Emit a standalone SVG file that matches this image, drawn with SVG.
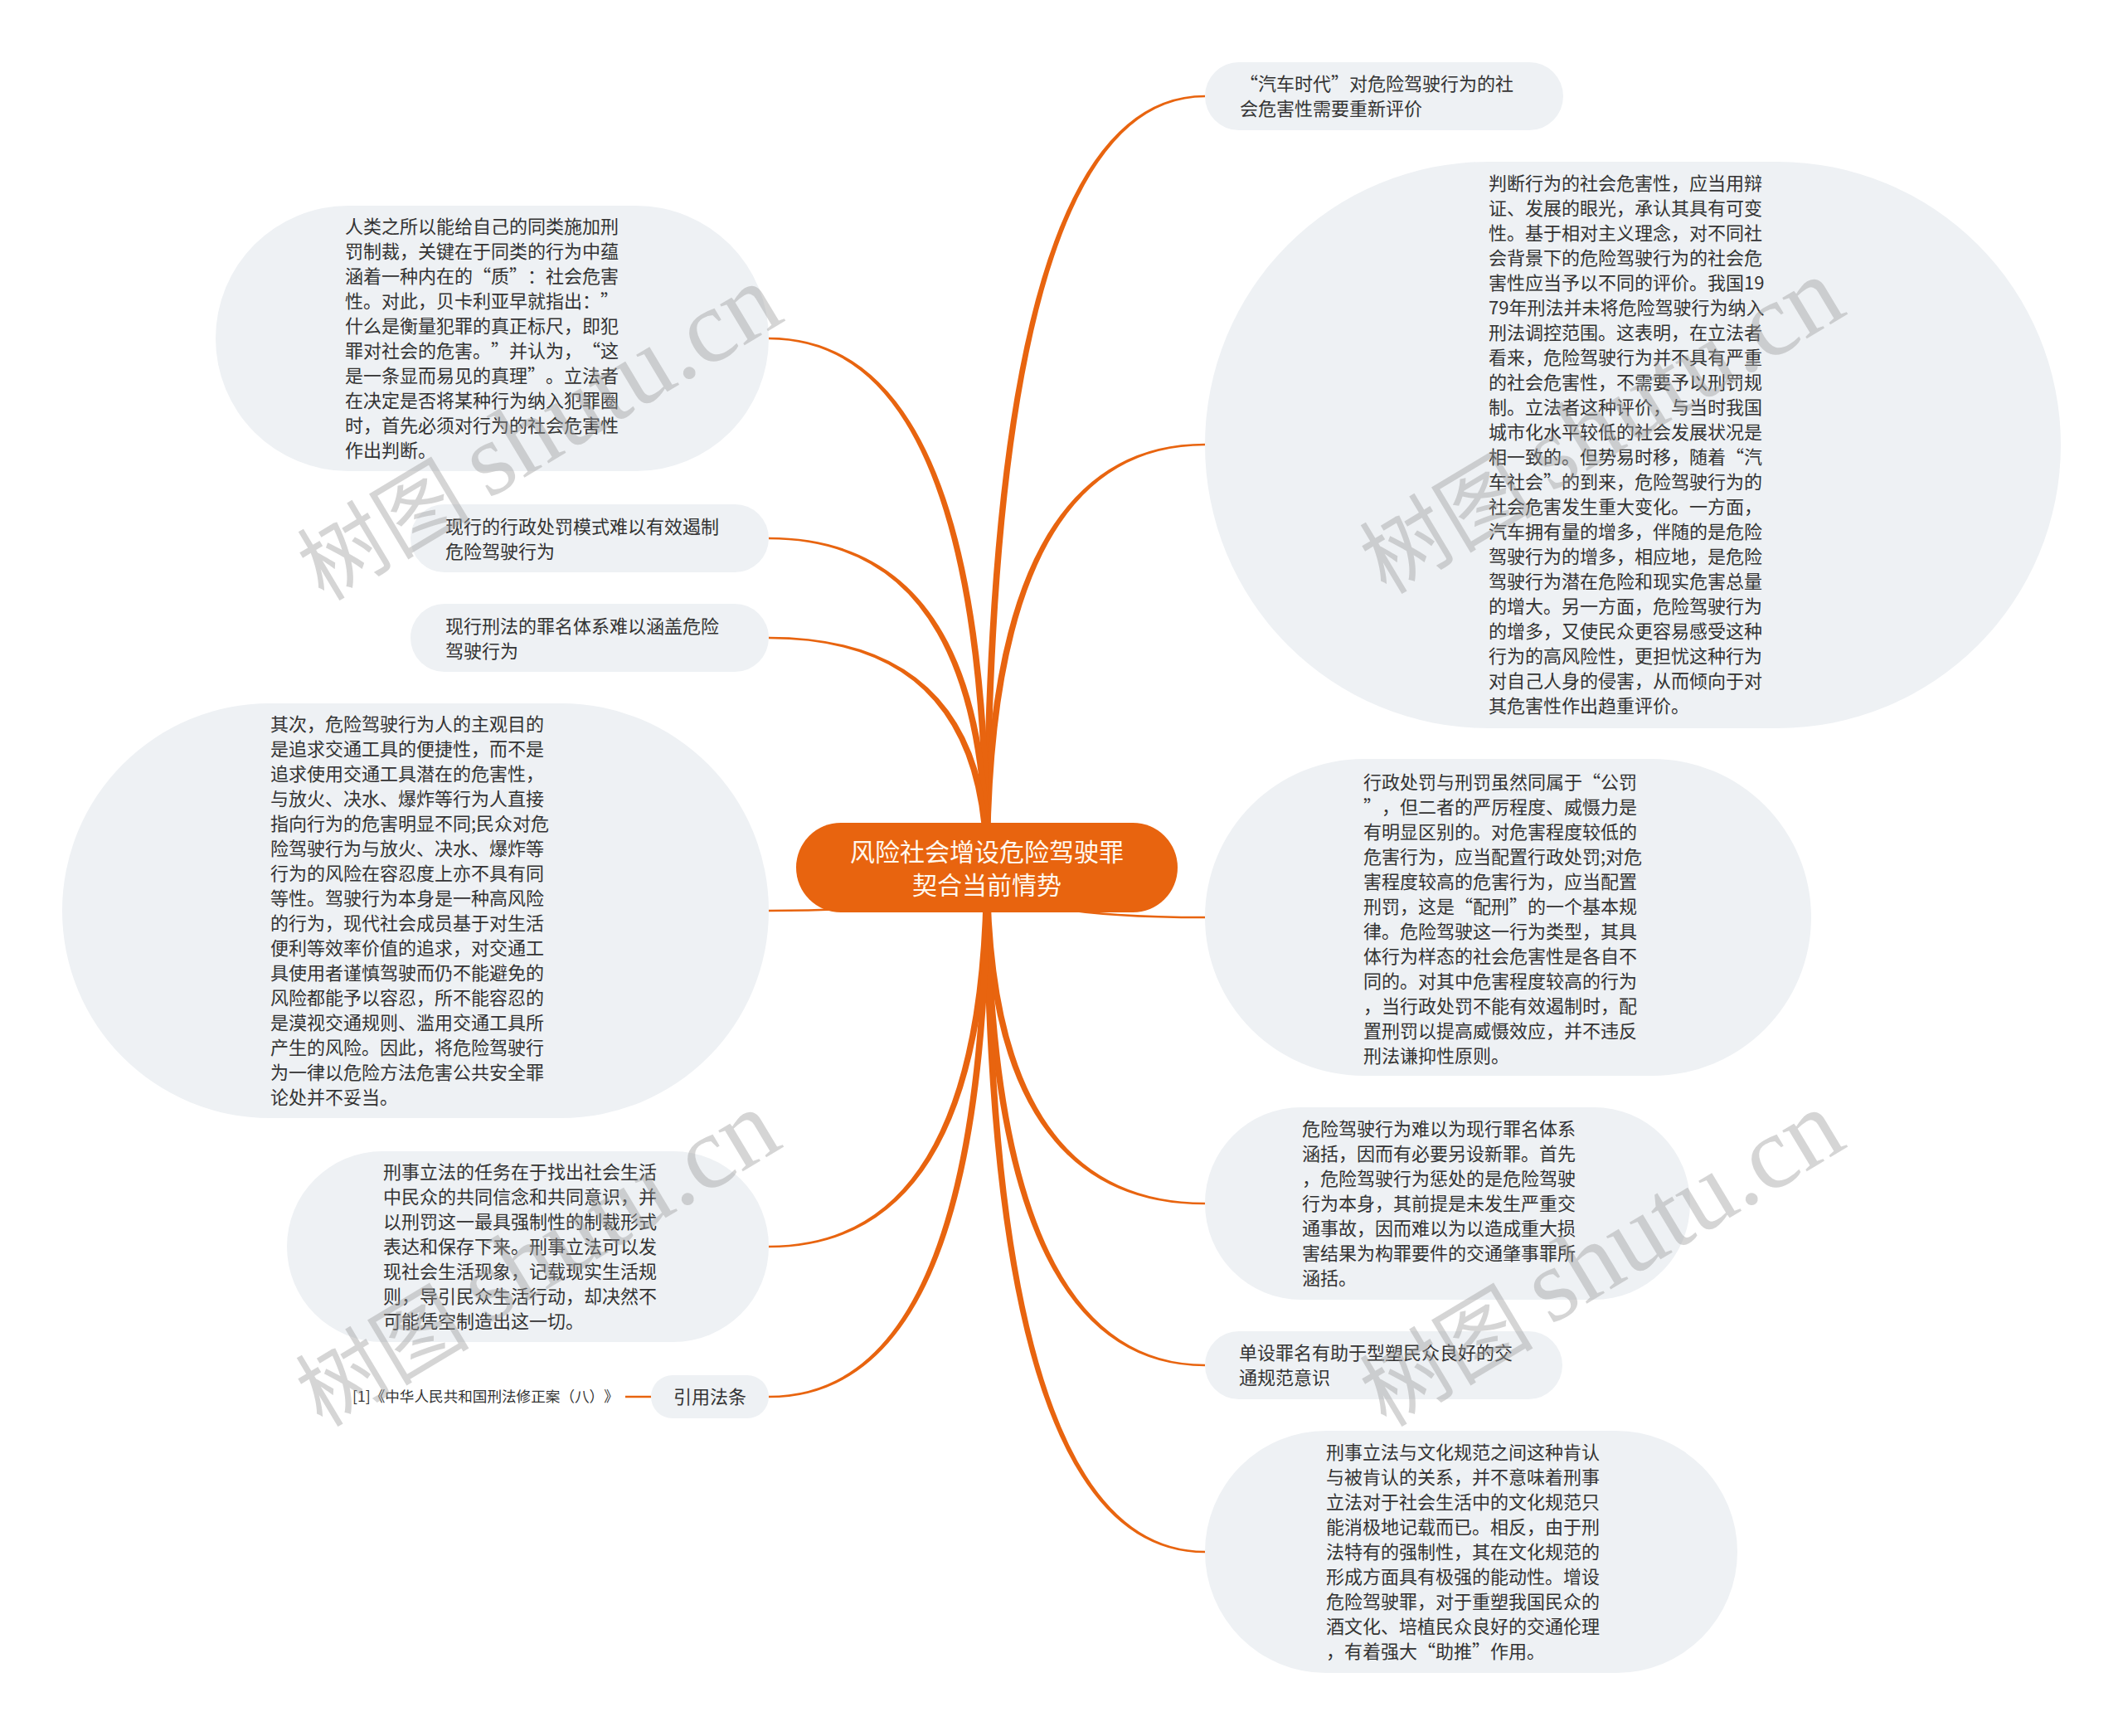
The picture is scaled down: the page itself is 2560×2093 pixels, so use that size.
<svg xmlns="http://www.w3.org/2000/svg" width="2560" height="2093" viewBox="0 0 2560 2093">
<style>
.bg{fill:#ffffff}
.box{fill:#EEF1F4}
.t{font-family:"Noto Sans CJK SC","Noto Sans",sans-serif;font-size:22px;fill:#333333;text-spacing-trim:space-all}
.rt{font-family:"Noto Sans CJK SC","Noto Sans",sans-serif;font-size:30px;fill:#FFF8EE;text-anchor:middle}
.br{fill:#E8640F}
.wm{font-family:"Noto Sans CJK SC",sans-serif;fill:#9a9a9a;fill-opacity:0.42}
.wml{font-family:"Liberation Serif",serif}
</style>
<rect class="bg" x="0" y="0" width="2560" height="2093"/>
<g id="connectors">
<path class="br" d="M1194,1046 Q1194,117.25 1453,117.25 L1453,114.75 Q1186,114.75 1186,1046 Z"/>
<path class="br" d="M1194,1046 Q1194,537.25 1453,537.25 L1453,534.75 Q1186,534.75 1186,1046 Z"/>
<path class="br" d="M1186,1046 Q1186,1107.25 1453,1107.25 L1453,1104.75 Q1194,1104.75 1194,1046 Z"/>
<path class="br" d="M1186,1046 Q1186,1452.25 1453,1452.25 L1453,1449.75 Q1194,1449.75 1194,1046 Z"/>
<path class="br" d="M1186,1046 Q1186,1647.25 1453,1647.25 L1453,1644.75 Q1194,1644.75 1194,1046 Z"/>
<path class="br" d="M1186,1046 Q1186,1872.25 1453,1872.25 L1453,1869.75 Q1194,1869.75 1194,1046 Z"/>
<path class="br" d="M1194,1046 Q1194,406.75 927,406.75 L927,409.25 Q1186,409.25 1186,1046 Z"/>
<path class="br" d="M1194,1046 Q1194,647.75 927,647.75 L927,650.25 Q1186,650.25 1186,1046 Z"/>
<path class="br" d="M1194,1046 Q1194,767.75 927,767.75 L927,770.25 Q1186,770.25 1186,1046 Z"/>
<path class="br" d="M1186,1046 Q1186,1096.75 927,1096.75 L927,1099.25 Q1194,1099.25 1194,1046 Z"/>
<path class="br" d="M1186,1046 Q1186,1501.75 927,1501.75 L927,1504.25 Q1194,1504.25 1194,1046 Z"/>
<path class="br" d="M1186,1046 Q1186,1682.75 927,1682.75 L927,1685.25 Q1194,1685.25 1194,1046 Z"/>
<line x1="754" y1="1684" x2="785" y2="1684" stroke="#E8640F" stroke-width="2.5"/>
</g>
<g id="root">
<rect x="960" y="992" width="460" height="108" rx="54" fill="#E8640F"/>
<text class="rt" x="1190" y="1038">风险社会增设危险驾驶罪</text>
<text class="rt" x="1190" y="1078">契合当前情势</text>
</g>
<g id="n-r1">
<rect class="box" x="1453" y="75" width="432" height="82" rx="41"/>
<text class="t" x="1495" y="109"><tspan x="1495">“汽车时代”对危险驾驶行为的社</tspan><tspan x="1495" dy="30">会危害性需要重新评价</tspan></text>
</g>
<g id="n-r2">
<rect class="box" x="1453" y="195" width="1032" height="683" rx="341.5"/>
<text class="t" x="1795" y="229"><tspan x="1795">判断行为的社会危害性，应当用辩</tspan><tspan x="1795" dy="30">证、发展的眼光，承认其具有可变</tspan><tspan x="1795" dy="30">性。基于相对主义理念，对不同社</tspan><tspan x="1795" dy="30">会背景下的危险驾驶行为的社会危</tspan><tspan x="1795" dy="30">害性应当予以不同的评价。我国19</tspan><tspan x="1795" dy="30">79年刑法并未将危险驾驶行为纳入</tspan><tspan x="1795" dy="30">刑法调控范围。这表明，在立法者</tspan><tspan x="1795" dy="30">看来，危险驾驶行为并不具有严重</tspan><tspan x="1795" dy="30">的社会危害性，不需要予以刑罚规</tspan><tspan x="1795" dy="30">制。立法者这种评价，与当时我国</tspan><tspan x="1795" dy="30">城市化水平较低的社会发展状况是</tspan><tspan x="1795" dy="30">相一致的。但势易时移，随着“汽</tspan><tspan x="1795" dy="30">车社会”的到来，危险驾驶行为的</tspan><tspan x="1795" dy="30">社会危害发生重大变化。一方面，</tspan><tspan x="1795" dy="30">汽车拥有量的增多，伴随的是危险</tspan><tspan x="1795" dy="30">驾驶行为的增多，相应地，是危险</tspan><tspan x="1795" dy="30">驾驶行为潜在危险和现实危害总量</tspan><tspan x="1795" dy="30">的增大。另一方面，危险驾驶行为</tspan><tspan x="1795" dy="30">的增多，又使民众更容易感受这种</tspan><tspan x="1795" dy="30">行为的高风险性，更担忧这种行为</tspan><tspan x="1795" dy="30">对自己人身的侵害，从而倾向于对</tspan><tspan x="1795" dy="30">其危害性作出趋重评价。</tspan></text>
</g>
<g id="n-r3">
<rect class="box" x="1453" y="915" width="731" height="382" rx="191"/>
<text class="t" x="1644" y="951"><tspan x="1644">行政处罚与刑罚虽然同属于“公罚</tspan><tspan x="1644" dy="30">”，但二者的严厉程度、威慑力是</tspan><tspan x="1644" dy="30">有明显区别的。对危害程度较低的</tspan><tspan x="1644" dy="30">危害行为，应当配置行政处罚;对危</tspan><tspan x="1644" dy="30">害程度较高的危害行为，应当配置</tspan><tspan x="1644" dy="30">刑罚，这是“配刑”的一个基本规</tspan><tspan x="1644" dy="30">律。危险驾驶这一行为类型，其具</tspan><tspan x="1644" dy="30">体行为样态的社会危害性是各自不</tspan><tspan x="1644" dy="30">同的。对其中危害程度较高的行为</tspan><tspan x="1644" dy="30">，当行政处罚不能有效遏制时，配</tspan><tspan x="1644" dy="30">置刑罚以提高威慑效应，并不违反</tspan><tspan x="1644" dy="30">刑法谦抑性原则。</tspan></text>
</g>
<g id="n-r4">
<rect class="box" x="1453" y="1335" width="585" height="232" rx="116"/>
<text class="t" x="1570" y="1369"><tspan x="1570">危险驾驶行为难以为现行罪名体系</tspan><tspan x="1570" dy="30">涵括，因而有必要另设新罪。首先</tspan><tspan x="1570" dy="30">，危险驾驶行为惩处的是危险驾驶</tspan><tspan x="1570" dy="30">行为本身，其前提是未发生严重交</tspan><tspan x="1570" dy="30">通事故，因而难以为以造成重大损</tspan><tspan x="1570" dy="30">害结果为构罪要件的交通肇事罪所</tspan><tspan x="1570" dy="30">涵括。</tspan></text>
</g>
<g id="n-r5">
<rect class="box" x="1453" y="1605" width="431" height="82" rx="41"/>
<text class="t" x="1494" y="1639"><tspan x="1494">单设罪名有助于型塑民众良好的交</tspan><tspan x="1494" dy="30">通规范意识</tspan></text>
</g>
<g id="n-r6">
<rect class="box" x="1453" y="1725" width="642" height="292" rx="146"/>
<text class="t" x="1599" y="1759"><tspan x="1599">刑事立法与文化规范之间这种肯认</tspan><tspan x="1599" dy="30">与被肯认的关系，并不意味着刑事</tspan><tspan x="1599" dy="30">立法对于社会生活中的文化规范只</tspan><tspan x="1599" dy="30">能消极地记载而已。相反，由于刑</tspan><tspan x="1599" dy="30">法特有的强制性，其在文化规范的</tspan><tspan x="1599" dy="30">形成方面具有极强的能动性。增设</tspan><tspan x="1599" dy="30">危险驾驶罪，对于重塑我国民众的</tspan><tspan x="1599" dy="30">酒文化、培植民众良好的交通伦理</tspan><tspan x="1599" dy="30">，有着强大“助推”作用。</tspan></text>
</g>
<g id="n-l1">
<rect class="box" x="260" y="248" width="667" height="320" rx="160"/>
<text class="t" x="416" y="281"><tspan x="416">人类之所以能给自己的同类施加刑</tspan><tspan x="416" dy="30">罚制裁，关键在于同类的行为中蕴</tspan><tspan x="416" dy="30">涵着一种内在的“质”：社会危害</tspan><tspan x="416" dy="30">性。对此，贝卡利亚早就指出：”</tspan><tspan x="416" dy="30">什么是衡量犯罪的真正标尺，即犯</tspan><tspan x="416" dy="30">罪对社会的危害。”并认为，“这</tspan><tspan x="416" dy="30">是一条显而易见的真理”。立法者</tspan><tspan x="416" dy="30">在决定是否将某种行为纳入犯罪圈</tspan><tspan x="416" dy="30">时，首先必须对行为的社会危害性</tspan><tspan x="416" dy="30">作出判断。</tspan></text>
</g>
<g id="n-l2">
<rect class="box" x="495" y="608" width="432" height="82" rx="41"/>
<text class="t" x="537" y="643"><tspan x="537">现行的行政处罚模式难以有效遏制</tspan><tspan x="537" dy="30">危险驾驶行为</tspan></text>
</g>
<g id="n-l3">
<rect class="box" x="495" y="728" width="432" height="82" rx="41"/>
<text class="t" x="537" y="763"><tspan x="537">现行刑法的罪名体系难以涵盖危险</tspan><tspan x="537" dy="30">驾驶行为</tspan></text>
</g>
<g id="n-l4">
<rect class="box" x="75" y="848" width="852" height="500" rx="250"/>
<text class="t" x="326" y="881"><tspan x="326">其次，危险驾驶行为人的主观目的</tspan><tspan x="326" dy="30">是追求交通工具的便捷性，而不是</tspan><tspan x="326" dy="30">追求使用交通工具潜在的危害性，</tspan><tspan x="326" dy="30">与放火、决水、爆炸等行为人直接</tspan><tspan x="326" dy="30">指向行为的危害明显不同;民众对危</tspan><tspan x="326" dy="30">险驾驶行为与放火、决水、爆炸等</tspan><tspan x="326" dy="30">行为的风险在容忍度上亦不具有同</tspan><tspan x="326" dy="30">等性。驾驶行为本身是一种高风险</tspan><tspan x="326" dy="30">的行为，现代社会成员基于对生活</tspan><tspan x="326" dy="30">便利等效率价值的追求，对交通工</tspan><tspan x="326" dy="30">具使用者谨慎驾驶而仍不能避免的</tspan><tspan x="326" dy="30">风险都能予以容忍，所不能容忍的</tspan><tspan x="326" dy="30">是漠视交通规则、滥用交通工具所</tspan><tspan x="326" dy="30">产生的风险。因此，将危险驾驶行</tspan><tspan x="326" dy="30">为一律以危险方法危害公共安全罪</tspan><tspan x="326" dy="30">论处并不妥当。</tspan></text>
</g>
<g id="n-l5">
<rect class="box" x="346" y="1388" width="581" height="230" rx="115"/>
<text class="t" x="462" y="1421"><tspan x="462">刑事立法的任务在于找出社会生活</tspan><tspan x="462" dy="30">中民众的共同信念和共同意识，并</tspan><tspan x="462" dy="30">以刑罚这一最具强制性的制裁形式</tspan><tspan x="462" dy="30">表达和保存下来。刑事立法可以发</tspan><tspan x="462" dy="30">现社会生活现象，记载现实生活规</tspan><tspan x="462" dy="30">则，导引民众生活行动，却决然不</tspan><tspan x="462" dy="30">可能凭空制造出这一切。</tspan></text>
</g>
<g id="n-l6">
<rect class="box" x="785" y="1658" width="142" height="52" rx="26"/>
<text class="t" x="856" y="1692" text-anchor="middle">引用法条</text>
</g>
<g id="n-leaf">
<text class="t" x="425" y="1690" style="font-size:17.6px">[1]《中华人民共和国刑法修正案（八）》</text>
</g>
<g id="watermark">
<text class="wm" transform="translate(647,518) rotate(-31)" text-anchor="middle" dominant-baseline="central"><tspan style="font-size:105px">树图 </tspan><tspan class="wml" style="font-size:125px">shutu.cn</tspan></text>
<text class="wm" transform="translate(1928,510) rotate(-31)" text-anchor="middle" dominant-baseline="central"><tspan style="font-size:105px">树图 </tspan><tspan class="wml" style="font-size:125px">shutu.cn</tspan></text>
<text class="wm" transform="translate(645,1514) rotate(-31)" text-anchor="middle" dominant-baseline="central"><tspan style="font-size:105px">树图 </tspan><tspan class="wml" style="font-size:125px">shutu.cn</tspan></text>
<text class="wm" transform="translate(1928,1514) rotate(-31)" text-anchor="middle" dominant-baseline="central"><tspan style="font-size:105px">树图 </tspan><tspan class="wml" style="font-size:125px">shutu.cn</tspan></text>
</g>
</svg>
